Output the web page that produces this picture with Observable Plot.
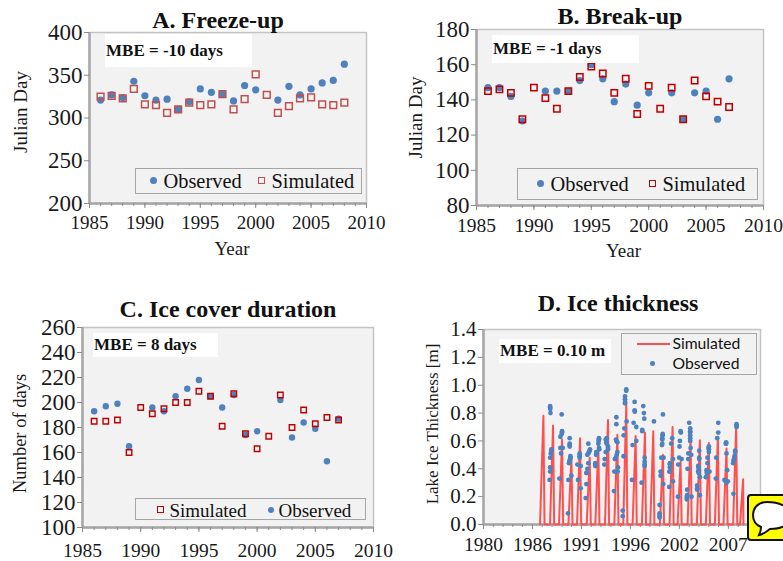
<!DOCTYPE html>
<html><head><meta charset="utf-8">
<script src="https://cdn.jsdelivr.net/npm/d3@7"></script>
<script src="https://cdn.jsdelivr.net/npm/@observablehq/plot@0.6"></script>
<style>
html,body{margin:0;padding:0;background:#fff;overflow:hidden}
#page{position:relative;width:783px;height:561px;overflow:hidden;font-family:"Liberation Serif",serif;color:#111}
.title{position:absolute;font-weight:bold;font-size:24px;transform:translate(-50%,-50%);white-space:nowrap;line-height:1}
.mbe{position:absolute;background:#fff;font-weight:bold;font-size:17px;display:flex;align-items:center;white-space:nowrap;box-sizing:border-box;padding-left:1px}
.legend{position:absolute;border:1.5px solid #a6a6a6;box-sizing:border-box}
.legend span{position:absolute;line-height:1;white-space:nowrap;transform:translateY(-50%)}
.legend i{position:absolute;display:block;box-sizing:border-box}
#sticker{position:absolute;left:747px;top:494px;width:40px;height:47px;background:#ffff00;border:2px solid #111;border-radius:4px;box-sizing:border-box}
</style></head><body><div id="page"></div>
<script>
const yearsA = [1986,1987,1988,1989,1990,1991,1992,1993,1994,1995,1996,1997,1998,1999,2000,2001,2002,2003,2004,2005,2006,2007,2008];
const obsA = [321,327,324,343,326,321,322,310,319,334,330,328,320,338,333,null,321,337,327,334,341,344,363];
const simA = [325,326,323,334,316,315,306,310,318,315,316,328,310,322,351,327,306,314,323,324,316,315,318];
const yearsBC = [1986,1987,1988,1989,1990,1991,1992,1993,1994,1995,1996,1997,1998,1999,2000,2001,2002,2003,2004,2005,2006,2007];
const obsB = [147,147,142,128,null,145,145,145,151,160,152,139,149,137,144,null,144,129,144,145,129,152];
const simB = [145,146,144,129,147,141,135,145,153,159,155,144,152,132,148,135,147,129,151,142,139,136];
const obsC = [193,197,199,165,null,196,193,205,211,218,205,196,206,174,177,null,202,172,184,179,153,187];
const simC = [185,185,186,160,196,191,195,200,200,209,205,181,207,175,163,173,206,180,194,183,188,186];

const simOnset = [1986.85,1987.94,1988.92,1989.94,1990.88,1991.93,1992.87,1993.92,1994.94,1995.91,1996.93,1997.94,1998.85,1999.9,2000.95,2001.82,2002.91,2003.92,2004.9,2005.88,2006.82,2007.87,2008.62];
const simPeakTime = [1987.22,1988.27,1989.25,1990.27,1991.21,1992.26,1993.2,1994.25,1995.27,1996.24,1997.26,1998.27,1999.18,2000.23,2001.28,2002.15,2003.24,2004.25,2005.23,2006.21,2007.15,2008.2,2008.96];
const simPeak = [0.78,0.71,0.61,0.48,0.62,0.48,0.57,0.75,0.645,0.86,0.635,0.66,0.67,0.5,0.70,0.45,0.63,0.605,0.585,0.63,0.545,0.70,0.325];
const simMelt = [1987.34,1988.39,1989.37,1990.39,1991.33,1992.38,1993.32,1994.37,1995.39,1996.36,1997.38,1998.39,1999.3,2000.35,2001.4,2002.27,2003.36,2004.37,2005.35,2006.33,2007.27,2008.32,2008.99];

const obsTimeD = [
1987.95,1987.95,1987.97,1987.99,1988.09,1988.07,1988.03,1987.95,1987.95,1987.95,1987.9,
1989.21,1989.25,1989.25,1989.21,1989.07,1989.07,1989.32,1989.14,1988.96,
1990.08,1990.08,1990.08,1990.08,1990.16,1990.16,1990.12,1990.08,1990.05,1990.01,1990.27,1989.94,1989.9,
1991.17,1991.17,1991.17,1991.17,1990.92,1991.28,1990.99,1991.28,
1992.11,1992.29,1992.25,1992.19,1992.11,1992.0,1992.11,1992.0,1991.93,1991.9,1991.9,1991.82,
1993.27,1993.27,1993.23,1993.2,1993.27,1993.3,1992.98,1993.02,1992.95,1992.87,1992.87,1992.87,
1994.11,1994.0,1994.07,1994.11,1994.25,1994.25,1994.25,1994.0,1993.89,1993.85,
1995.16,1995.16,1995.12,1995.16,1995.27,1995.27,1995.2,1995.1,1995.0,1995.34,1994.94,1995.3,1994.9,
1996.24,1996.24,1996.1,1996.1,1996.12,1996.1,1996.28,1996.03,1995.95,1995.95,1995.85,1995.85,
1997.15,1997.15,1997.17,1997.04,1997.33,1997.33,1996.93,1996.86,
1998.09,1998.16,1998.2,1997.98,1997.98,1998.24,1998.24,1998.24,1998.24,1997.91,
1999.25,
2000.23,2000.2,2000.2,2000.16,2000.16,2000.16,2000.12,2000.05,2000.3,1999.98,1999.98,2000.27,1999.87,1999.87,1999.87,1999.87,1999.87,
2001.24,2001.13,2001.32,2000.99,2000.99,2000.99,2000.95,2000.95,2001.32,2000.92,
2002.15,2002.18,2002.08,2002.04,2002.0,2002.26,2001.9,2001.86,
2003.09,2003.2,2003.2,2003.2,2003.2,2003.2,2003.2,2003.24,2003.0,2003.31,2002.98,2002.91,2002.87,2002.87,2002.84,2002.84,2002.84,2003.34,
2004.18,2004.18,2004.18,2004.07,2004.1,2004.12,2004.07,2004.12,2004.25,2003.96,2003.96,2003.96,2004.25,
2005.23,2005.2,2005.23,2005.23,2005.08,2005.08,2004.98,2005.02,2005.3,2005.0,2004.9,
2006.25,2006.25,2006.14,2006.03,2005.99,
2007.11,2007.07,2007.11,2007.15,2007.22,2006.93,2007.05,2007.29,2007.15,
2008.24,2008.24,2008.24,2008.09,2008.09,2008.02,2007.98,2007.91,2007.87,2007.91];
const obsThickD = [
0.85,0.84,0.83,0.80,0.54,0.53,0.51,0.48,0.41,0.38,0.32,
0.79,0.67,0.66,0.65,0.63,0.55,0.55,0.51,0.33,
0.62,0.58,0.57,0.56,0.49,0.48,0.47,0.46,0.45,0.44,0.35,0.32,0.08,
0.51,0.50,0.49,0.48,0.43,0.42,0.32,0.26,
0.58,0.54,0.53,0.52,0.51,0.50,0.44,0.40,0.37,0.37,0.29,0.19,
0.62,0.61,0.60,0.58,0.55,0.54,0.52,0.51,0.50,0.44,0.43,0.42,
0.62,0.61,0.59,0.58,0.56,0.55,0.54,0.52,0.47,0.43,
0.77,0.72,0.61,0.60,0.59,0.52,0.50,0.48,0.47,0.41,0.38,0.38,0.24,
0.97,0.96,0.92,0.90,0.88,0.87,0.74,0.69,0.64,0.49,0.10,0.06,
0.88,0.82,0.81,0.73,0.70,0.60,0.57,0.32,
0.85,0.80,0.76,0.68,0.67,0.48,0.45,0.43,0.42,0.30,
0.74,
0.79,0.65,0.64,0.62,0.61,0.58,0.57,0.48,0.48,0.38,0.35,0.29,0.14,0.08,0.07,0.06,0.05,
0.62,0.58,0.47,0.44,0.43,0.41,0.38,0.38,0.31,0.27,
0.67,0.66,0.60,0.56,0.48,0.47,0.43,0.20,
0.73,0.69,0.67,0.66,0.64,0.62,0.60,0.55,0.51,0.50,0.47,0.40,0.25,0.21,0.20,0.19,0.18,0.20,
0.53,0.48,0.47,0.42,0.41,0.39,0.38,0.37,0.34,0.28,0.26,0.25,0.21,
0.56,0.55,0.54,0.52,0.48,0.44,0.39,0.39,0.38,0.37,0.34,
0.73,0.66,0.62,0.48,0.33,
0.59,0.58,0.58,0.51,0.39,0.32,0.31,0.31,0.30,
0.72,0.71,0.70,0.53,0.52,0.49,0.47,0.46,0.44,0.22];

const tickYears = [1985,1990,1995,2000,2005,2010];
const minorYears = d3.range(1985,2011);
const ticksAy = [200,250,300,350,400];
const ticksBy = [80,100,120,140,160,180];
const ticksCy = [100,120,140,160,180,200,220,240,260];
const ticksDy = [0,0.2,0.4,0.6,0.8,1.0,1.2,1.4];
const ticksDx = [1980.7,1986.03,1991.36,1996.69,2002.02,2007.35];
const minorDx = [1980.7,1981.77,1982.83,1983.9,1984.96,1986.03,1987.1,1988.16,1989.23,1990.29,1991.36,1992.43,1993.49,1994.56,1995.62,1996.69,1997.76,1998.82,1999.89,2000.95,2002.02,2003.09,2004.15,2005.22,2006.28,2007.35,2008.42,2009.48,2010.55];

const BLUE="#4f81bd", GRAY="#a6a6a6", PANEL="#f2f2f2", INK="#1a1a1a";
const page=document.getElementById("page");

function frameMarks(xDom,yDom,o){
  return [
    Plot.frame({fill:PANEL,stroke:"#c4c4c4",strokeWidth:1.5}),
    Plot.ruleX([xDom[0]],{stroke:GRAY,strokeWidth:2.5}),
    Plot.ruleY([yDom[0]],{stroke:GRAY,strokeWidth:2.5}),
    Plot.axisX(o.minor,{tickSize:3,tickFormat:()=>"",stroke:"#8c8c8c",label:null}),
    Plot.axisX(o.xt,{tickSize:5,tickPadding:o.xPad,stroke:"#8c8c8c",fill:INK,fontSize:o.xfs,tickFormat:o.xf,label:null}),
    Plot.axisY(o.yt,{tickSize:5,tickPadding:2,stroke:"#8c8c8c",fill:INK,fontSize:o.yfs,tickFormat:o.yf||"d",label:null}),
    Plot.text([o.yl],{frameAnchor:"left",rotate:-90,dx:-o.ylo,dy:o.yldy||0,fontSize:o.yls,fill:INK,textAnchor:"middle",lineAnchor:"middle"}),
    ...(o.xl?[Plot.text([o.xl],{frameAnchor:"bottom",dx:o.xldx,dy:o.xlo,fontSize:19,fill:INK,textAnchor:"middle",lineAnchor:"middle"})]:[])
  ];
}
function panel(o,marks){
  const p=Plot.plot({
    width:o.w,height:o.h,marginLeft:o.ml,marginRight:o.mr,marginTop:o.mt,marginBottom:o.mb,
    style:{fontFamily:"Liberation Serif",fontSize:"17px",color:INK,background:"none",overflow:"visible"},
    x:{domain:o.xd},y:{domain:o.yd},
    marks:[...frameMarks(o.xd,o.yd,o),...marks]
  });
  p.style.position="absolute";p.style.left=o.l+"px";p.style.top=o.t+"px";
  page.appendChild(p);
}
function title(t,x,y){const d=document.createElement("div");d.className="title";d.textContent=t;d.style.left=x+"px";d.style.top=y+"px";page.appendChild(d);}
function mbe(t,l,r,tp,b){const d=document.createElement("div");d.className="mbe";d.textContent=t;
  Object.assign(d.style,{left:l+"px",top:tp+"px",width:(r-l)+"px",height:(b-tp)+"px"});page.appendChild(d);}
function legend(l,r,t,b,items,fs,ff){
  const d=document.createElement("div");d.className="legend";
  Object.assign(d.style,{left:l+"px",top:t+"px",width:(r-l)+"px",height:(b-t)+"px"});
  for(const it of items){
    if(it.text){const s=document.createElement("span");s.textContent=it.text;
      Object.assign(s.style,{left:(it.x-l-1.5)+"px",top:(it.y-t-1.5)+"px",fontSize:fs+"px",fontFamily:ff||"inherit"});d.appendChild(s);}
    else{const i=document.createElement("i");const w=it.w,h=it.h||it.w;
      Object.assign(i.style,{left:(it.x-l-1.5-w/2)+"px",top:(it.y-t-1.5-h/2)+"px",width:w+"px",height:h+"px"});
      if(it.kind==="c"){i.style.background=BLUE;i.style.borderRadius="50%";}
      if(it.kind==="s"){i.style.border="1.5px solid "+it.c;}
      if(it.kind==="l"){i.style.background=it.c;}
      d.appendChild(i);}
  }
  page.appendChild(d);
}
const rows=(xs,ys)=>xs.map((x,i)=>({x,y:ys[i]})).filter(d=>d.y!=null);
const yearFmt=d=>String(d);

// A
panel({l:0,t:0,w:392,h:270,ml:89,mr:26,mt:32,mb:67,xd:[1985,2010],yd:[200,400],xt:tickYears,minor:minorYears,xf:yearFmt,xPad:7,xfs:19,yfs:23,
  xl:"Year",xlo:45,xldx:4,yt:ticksAy,yl:"Julian Day",ylo:69,yls:19,yldy:-6},[
  Plot.dot(rows(yearsA,obsA),{x:"x",y:"y",r:3.6,fill:BLUE}),
  Plot.dot(rows(yearsA,simA),{x:"x",y:"y",r:3.8,symbol:"square",stroke:"#c0504d",strokeWidth:1.5,fill:"none"})
]);
// B
panel({l:392,t:0,w:391,h:270,ml:84,mr:20,mt:29,mb:65,xd:[1985,2010],yd:[80,180],xt:tickYears,minor:minorYears,xf:yearFmt,xPad:8,xfs:19.5,yfs:23,
  xl:"Year",xlo:45,xldx:3.5,yt:ticksBy,yl:"Julian Day",ylo:61,yls:19},[
  Plot.dot(rows(yearsBC,obsB),{x:"x",y:"y",r:3.6,fill:BLUE}),
  Plot.dot(rows(yearsBC,simB),{x:"x",y:"y",r:3.6,symbol:"square",stroke:"#c00000",strokeWidth:1.5,fill:"none"})
]);
// C
panel({l:0,t:285,w:392,h:276,ml:82,mr:19,mt:42,mb:34,xd:[1985,2010],yd:[100,260],xt:tickYears,minor:minorYears,xf:yearFmt,xPad:11,xfs:19.5,yfs:23,
  yt:ticksCy,yl:"Number of days",ylo:62,yls:18.5,yldy:6},[
  Plot.dot(rows(yearsBC,obsC),{x:"x",y:"y",r:3.2,fill:BLUE}),
  Plot.dot(rows(yearsBC,simC),{x:"x",y:"y",r:3.1,symbol:"square",stroke:"#c00000",strokeWidth:1.4,fill:"none"})
]);
// D
const simLine=simPeak.flatMap((v,i)=>[{x:simOnset[i],y:0},{x:simPeakTime[i],y:v},{x:simMelt[i],y:0}]);
panel({l:392,t:285,w:391,h:276,ml:91,mr:23,mt:44,mb:37,xd:[1980.7,2010.85],yd:[0,1.4],xt:ticksDx,minor:minorDx,
  xf:d=>String(Math.floor(d)),xPad:8,xfs:19.5,yfs:21,yt:ticksDy,yf:".1f",yl:"Lake Ice Thickness [m]",ylo:51,yls:17,yldy:-3},[
  Plot.line(simLine,{x:"x",y:"y",stroke:"#ff5050",strokeWidth:2}),
  Plot.dot(rows(obsTimeD,obsThickD),{x:"x",y:"y",r:2.4,fill:BLUE})
]);

title("A. Freeze-up",218,20);
title("B. Break-up",620,16);
title("C. Ice cover duration",228,309);
title("D. Ice thickness",618,303);

mbe("MBE = -10 days",105,252,34,67);
mbe("MBE = -1 days",492,639,35,63);
mbe("MBE = 8 days",93,218,333,357);
mbe("MBE = 0.10 m",499,611,339,363);

legend(135,362,168,194,[
  {kind:"c",x:154,y:181,w:7.5},{text:"Observed",x:164,y:181},
  {kind:"s",c:"#c0504d",x:262,y:181,w:7.5},{text:"Simulated",x:272,y:181}],20.4);
legend(517,758,168,200,[
  {kind:"c",x:541,y:184,w:7.5},{text:"Observed",x:551,y:184},
  {kind:"s",c:"#c00000",x:653,y:184,w:7.5},{text:"Simulated",x:663,y:184}],20.4);
legend(135,366,498,520,[
  {kind:"s",c:"#c00000",x:161,y:510,w:6.5},{text:"Simulated",x:170,y:510},
  {kind:"c",x:271,y:510,w:6},{text:"Observed",x:279,y:510}],19);
legend(621,757,333,375,[
  {kind:"l",c:"#ff5050",x:653.5,y:344,w:33,h:2},{text:"Simulated",x:673,y:344},
  {kind:"c",x:653,y:364,w:4.6},{text:"Observed",x:673,y:364}],15.7,"Lato");

const st=document.createElement("div");st.id="sticker";
st.innerHTML='<svg width="40" height="43" style="position:absolute;left:1px;top:1px"><path d="M17 5 C7 5 3 12 3 18 C3 24 6 28 11 30 C11 33 10 36 9 38 C14 37 17 34 20 32 C26 32 40 31 40 18 C40 9 28 5 17 5 Z" fill="#fff" stroke="#111" stroke-width="2"/></svg>';
page.appendChild(st);
</script></body></html>
